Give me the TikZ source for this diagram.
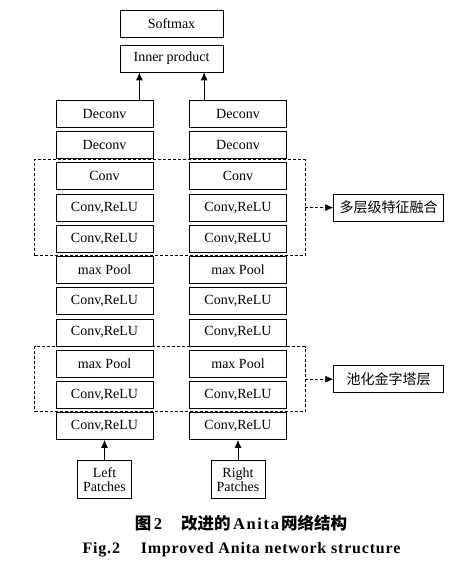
\documentclass[tikz,border=0pt]{standalone}
\usepackage{fontspec}
\setmainfont{Liberation Serif}
\newfontfamily\cjk{Noto Sans CJK SC}
\newfontfamily\capfont[LetterSpace=5]{Liberation Serif}
\newfontfamily\capwide[LetterSpace=10]{Liberation Serif}
\usetikzlibrary{positioning, fit, calc, arrows.meta}

\tikzset{
	layer/.style = {draw, line width=0.8pt, minimum width=97pt, minimum height=27pt, inner sep=0pt, font=\fontsize{14}{15}\selectfont},
	patch/.style = {draw, line width=0.8pt, minimum width=54pt, minimum height=38pt, inner sep=0pt, align=center, font=\fontsize{14}{14.5}\selectfont},
	group/.style = {draw, line width=0.8pt, dash pattern=on 3pt off 2pt, inner xsep=19.5pt, inner ysep=3pt},
	tag/.style = {draw, line width=0.8pt, minimum width=110pt, minimum height=27pt, inner sep=0pt, font=\fontsize{14}{15}\selectfont\cjk},
	arr/.style = {line width=0.8pt, -{Latex[length=8pt, width=7pt]}},
}

\begin{document}
\begin{tikzpicture}[x=1pt, y=-1pt, node distance=3.4pt]
		\useasboundingbox (0,0) rectangle (466,569);
		
		\node [layer, minimum width=103pt] (soft) at (171.5,23.5) {Softmax};
		\node [layer, minimum width=103pt, below=7.2pt of soft] (inner) {Inner product};
		
		% left branch
		\node [layer] (l1) at (104.5,114) {Deconv};
		\node [layer, below=of l1] (l2) {Deconv};
		\node [layer, below=of l2] (l3) {Conv};
		\node [layer, below=of l3] (l4) {Conv,ReLU};
		\node [layer, below=of l4] (l5) {Conv,ReLU};
		\node [layer, below=of l5] (l6) {max Pool};
		\node [layer, below=of l6] (l7) {Conv,ReLU};
		\node [layer, below=of l7] (l8) {Conv,ReLU};
		\node [layer, below=of l8] (l9) {max Pool};
		\node [layer, below=of l9] (l10) {Conv,ReLU};
		\node [layer, below=of l10] (l11) {Conv,ReLU};
		
		% right branch
		\node [layer] (r1) at (238,114) {Deconv};
		\node [layer, below=of r1] (r2) {Deconv};
		\node [layer, below=of r2] (r3) {Conv};
		\node [layer, below=of r3] (r4) {Conv,ReLU};
		\node [layer, below=of r4] (r5) {Conv,ReLU};
		\node [layer, below=of r5] (r6) {max Pool};
		\node [layer, below=of r6] (r7) {Conv,ReLU};
		\node [layer, below=of r7] (r8) {Conv,ReLU};
		\node [layer, below=of r8] (r9) {max Pool};
		\node [layer, below=of r9] (r10) {Conv,ReLU};
		\node [layer, below=of r10] (r11) {Conv,ReLU};
		
		\node [patch, below=20.5pt of l11] (lpatch) {Left\\Patches};
		\node [patch, below=20.5pt of r11] (rpatch) {Right\\Patches};
		
		% dashed groups
		\node [group, fit=(l3)(r5), xshift=-1.5pt] (fusion) {};
		\node [group, fit=(l9)(r10), xshift=-1.5pt] (pyramid) {};
		\node [tag, right=28pt of fusion] (fusiontag) {多层级特征融合};
		\node [tag, right=28pt of pyramid] (pyramidtag) {池化金字塔层};
		
		\draw [arr, dash pattern=on 3pt off 2pt] (fusion) -- (fusiontag);
		\draw [arr, dash pattern=on 3pt off 2pt] (pyramid) -- (pyramidtag);
		
		\draw [arr] (lpatch) -- (l11);
		\draw [arr] (rpatch) -- (r11);
		
		\coordinate (lout) at ($(l1.north east)+(-14pt,0pt)$);
		\coordinate (rout) at ($(r1.north west)+(15pt,0pt)$);
		\draw [arr] (lout) -- (lout |- inner.south);
		\draw [arr] (rout) -- (rout |- inner.south);
		
		% caption
		\node (capcn) at (241,523) {\fontsize{16.5}{17}\selectfont\bfseries{\cjk 图}\hspace{2.5pt}{\capwide 2}\hspace{19pt}{\cjk 改进的}\hspace{2.5pt}{\capwide Anita}\hspace{2pt}{\cjk 网络结构}};
		\node (capen) at (241.5,550) {\fontsize{16}{17}\selectfont\bfseries\capfont Fig.2\hspace{1.3em}Improved Anita network structure};
	\end{tikzpicture}
\end{document}
